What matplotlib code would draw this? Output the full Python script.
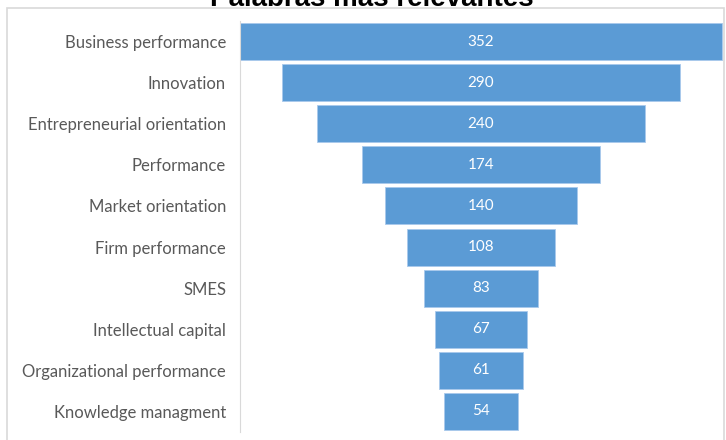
import matplotlib.pyplot as plt
from matplotlib.patches import Rectangle

# Datos
palabras = ["Business performance", "Innovation", "Entrepreneurial orientation",
            "Performance", "Market orientation", "Firm performance", "SMES",
            "Intellectual capital", "Organizational performance", "Knowledge managment"]
valores = [352, 290, 240, 174, 140, 108, 83, 67, 61, 54]

W, H = 726, 440
fig = plt.figure(figsize=(W / 100, H / 100), dpi=100)
fig.patch.set_facecolor("white")

# marco del gráfico (abierto por abajo, como en la imagen)
fig.patches.append(Rectangle((7 / W, -0.05), 717 / W, (432 / H) + 0.05,
                             transform=fig.transFigure, fill=False,
                             edgecolor="#d9d9d9", linewidth=1.2))

# área de ejes en píxeles: x 240-724, y 21-432 (desde arriba)
ax = fig.add_axes([240 / W, (H - 432) / H, 484 / W, 411 / H])
n = len(valores)
pos = list(range(n))
izq = [-v / 2 for v in valores]
ax.barh(pos, valores, left=izq, height=0.9, color="#5B9BD5",
        edgecolor="#a9c9ec", linewidth=0.6)
for p, v in zip(pos, valores):
    ax.text(0, p, str(v), ha="center", va="center", color="white",
            fontsize=11, family="Lato")

ax.set_xlim(-176, 177.5)
ax.set_ylim(n - 0.5, -0.5)
ax.set_yticks(pos)
ax.set_yticklabels(palabras, fontsize=12, color="#595959", family="Lato")
ax.tick_params(axis="y", length=0, pad=10)
ax.set_xticks([])
for s in ["top", "right", "bottom"]:
    ax.spines[s].set_visible(False)
ax.spines["left"].set_color("#d9d9d9")
ax.patch.set_alpha(0)

# título (recortado arriba, igual que en la imagen original)
fig.text(372 / W, (H - 6) / H, "Palabras más relevantes", ha="center",
         va="baseline", fontsize=20, fontweight="bold", family="Liberation Sans")

fig.savefig("out.png", dpi=100)
